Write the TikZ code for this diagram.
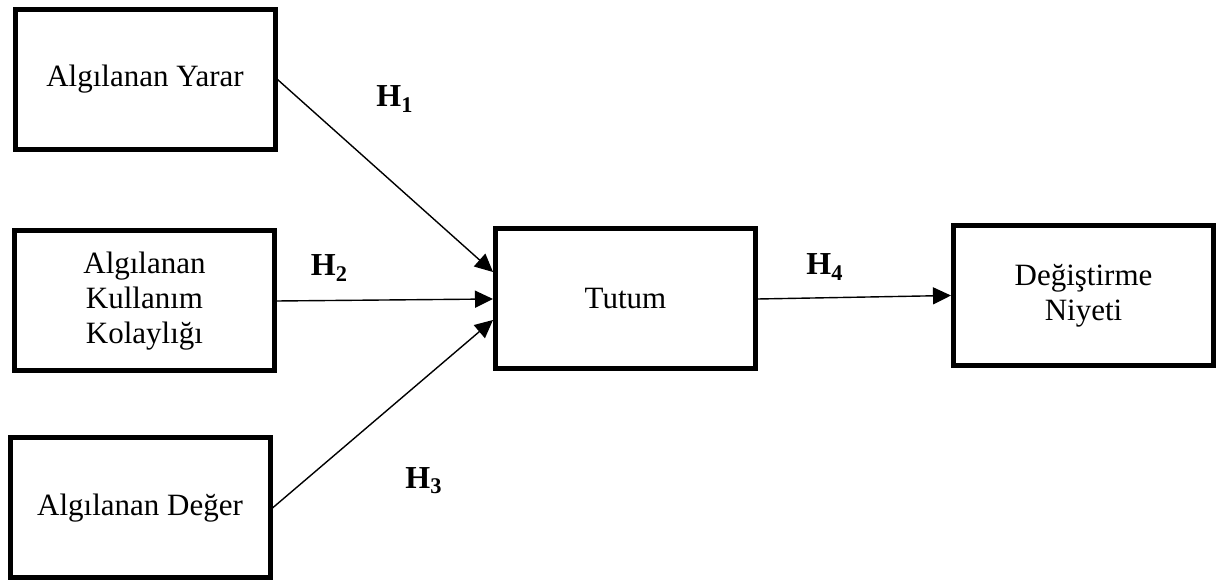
\documentclass[tikz,border=0pt]{standalone}
\usepackage{fontspec}
\setmainfont{Liberation Serif}
\usetikzlibrary{arrows.meta}
\begin{document}
\begin{tikzpicture}[x=0.5pt,y=-0.5pt,
  box/.style={draw,line width=2.5pt,minimum width=130pt,minimum height=70pt,align=center,
    font=\fontsize{15.5}{17.5}\selectfont},
  hyp/.style={inner sep=0pt,font=\fontsize{16}{18}\selectfont\bfseries},
  link/.style={line width=0.7pt,-{Triangle[length=9pt,width=8.5pt]}}]
  \useasboundingbox (0,0) rectangle (1217,581);
  \node[box] (yarar) at (145,79.5) {Algılanan Yarar};
  \node[box] (kolay) at (144.5,301) {Algılanan\\Kullanım\\Kolaylığı};
  \node[box] (deger) at (140,508) {Algılanan Değer};
  \node[box] (tutum) at (625.5,299) {Tutum};
  \node[box] (niyet) at (1083.5,295.5) {Değiştirme\\Niyeti};
  \draw[link] (yarar.east)--([yshift=13.5pt]tutum.west);
  \draw[link] (kolay.east)--(tutum.west);
  \draw[link] (deger.east)--([yshift=-10.5pt]tutum.west);
  \draw[link] (tutum.east)--(niyet.west);
  \node[hyp] (h1) at (395,99) {H\textsubscript{1}};
  \node[hyp] (h2) at (329.5,268) {H\textsubscript{2}};
  \node[hyp] (h3) at (424,481) {H\textsubscript{3}};
  \node[hyp] (h4) at (825,267) {H\textsubscript{4}};
\end{tikzpicture}
\end{document}
